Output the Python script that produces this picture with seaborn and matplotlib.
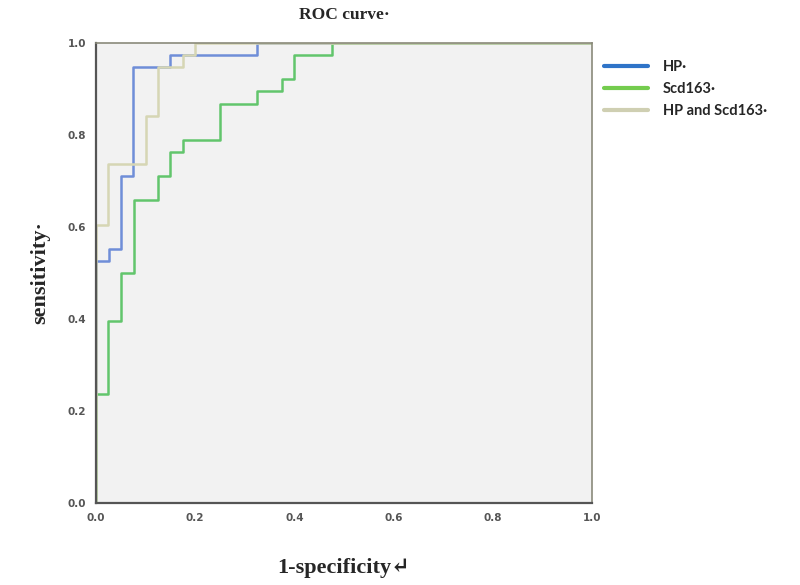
import numpy as np
import pandas as pd
import seaborn as sns
import matplotlib
matplotlib.use("Agg")
import matplotlib.pyplot as plt
from matplotlib.lines import Line2D

# ROC step points (1-specificity, sensitivity)
hp_fpr = [0.0, 0.0, 0.027, 0.05, 0.075, 0.15, 0.325, 1.0]
hp_tpr = [0.0, 0.526, 0.553, 0.711, 0.947, 0.974, 1.0, 1.0]

scd_fpr = [0.0, 0.0, 0.025, 0.05, 0.076, 0.125, 0.15, 0.176, 0.25, 0.325, 0.375, 0.40, 0.475, 1.0]
scd_tpr = [0.0, 0.237, 0.395, 0.50, 0.658, 0.711, 0.763, 0.789, 0.868, 0.895, 0.921, 0.974, 1.0, 1.0]

both_fpr = [0.0, 0.0, 0.025, 0.10, 0.125, 0.176, 0.20, 1.0]
both_tpr = [0.0, 0.605, 0.737, 0.842, 0.947, 0.974, 1.0, 1.0]

labels = ["HP", "Scd163", "HP and Scd163"]
curve_colors = ["#6f8ed8", "#62c56c", "#d6d6b4"]
legend_colors = ["#2f74c8", "#74cc4e", "#cfcfb2"]

frames = []
for lab, fx, fy in zip(labels, [hp_fpr, scd_fpr, both_fpr], [hp_tpr, scd_tpr, both_tpr]):
    frames.append(pd.DataFrame({"fpr": fx, "tpr": fy, "test": lab}))
df = pd.concat(frames, ignore_index=True)

sns.set_style("white")
fig = plt.figure(figsize=(8, 5.85), dpi=100)
ax = fig.add_axes([0.12, 0.14, 0.62, 0.7865])
ax.set_facecolor("#f2f2f2")

sns.lineplot(data=df, x="fpr", y="tpr", hue="test", palette=dict(zip(labels, curve_colors)),
             estimator=None, sort=False, drawstyle="steps-post", linewidth=1.8,
             legend=False, ax=ax)

ax.set_xlim(0, 1)
ax.set_ylim(0, 1)
ticks = [0.0, 0.2, 0.4, 0.6, 0.8, 1.0]
ax.set_xticks(ticks)
ax.set_yticks(ticks)
ax.set_xticklabels([f"{t:.1f}" for t in ticks])
ax.set_yticklabels([f"{t:.1f}" for t in ticks])
ax.tick_params(axis="both", direction="out", length=5, width=1.2, color="#555555",
               labelsize=7.5, labelcolor="#555555", pad=2)
for lab in ax.get_xticklabels() + ax.get_yticklabels():
    lab.set_fontweight("bold")

for side in ["left", "bottom"]:
    ax.spines[side].set_color("#555555")
    ax.spines[side].set_linewidth(1.6)
for side in ["top", "right"]:
    ax.spines[side].set_color("#8a8a7a")
    ax.spines[side].set_linewidth(1.2)

serif = ["Liberation Serif", "DejaVu Serif"]
ax.set_title("ROC curve\u00b7", fontsize=12.5, fontweight="bold", family=serif, pad=17)
ax.set_xlabel("1-specificity\u21b5", fontsize=16, fontweight="bold", family=serif, va="center")
ax.xaxis.set_label_coords(0.5, -0.141)
ax.set_ylabel("sensitivity\u00b7", fontsize=16, fontweight="bold", family=serif, va="center")
ax.yaxis.set_label_coords(-0.113, 0.5)

handles = [Line2D([0], [0], color=c, lw=3) for c in legend_colors]
leg = fig.legend(handles, [l + "\u00b7" for l in labels], loc="upper left",
                 bbox_to_anchor=(0.739, 0.92), frameon=False,
                 prop={"family": ["Lato", "DejaVu Sans"], "weight": "bold", "size": 10.5},
                 handlelength=3.0, handletextpad=1.0, labelspacing=0.55)

fig.savefig("out.png", dpi=100)
